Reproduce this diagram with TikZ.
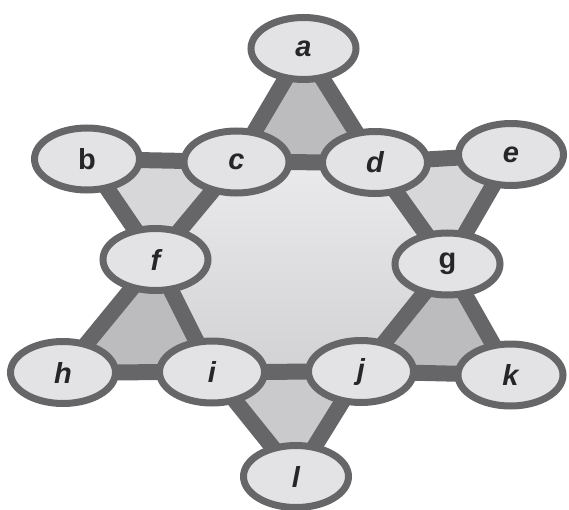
\documentclass[tikz,border=0pt]{standalone}
\usepackage{fontspec}
\setmainfont{Liberation Sans}
\usetikzlibrary{shapes.geometric}
\definecolor{edgec}{RGB}{102,102,104}
\definecolor{nodefill}{RGB}{227,227,229}
\definecolor{tridark}{RGB}{188,188,190}
\definecolor{trimid}{RGB}{202,202,204}
\definecolor{trilight}{RGB}{215,215,217}
\definecolor{hextop}{RGB}{234,234,236}
\definecolor{hexbot}{RGB}{210,210,212}
\definecolor{labelc}{RGB}{38,38,40}
\begin{document}
\begin{tikzpicture}[x=1pt,y=-1pt,
  vert/.style={ellipse,draw=edgec,fill=nodefill,line width=7pt,minimum width=105pt,minimum height=62pt,inner sep=0pt,text=labelc,font=\fontsize{29}{29}\selectfont\bfseries},
  link/.style={draw=edgec,line width=16pt}]
\useasboundingbox (0,0) rectangle (569,510);
\coordinate (A) at (303.5,48.5);
\coordinate (B) at (87,159);
\coordinate (C) at (236.5,162);
\coordinate (D) at (375,162.5);
\coordinate (E) at (511,154.5);
\coordinate (F) at (155.5,259.5);
\coordinate (G) at (447.5,264);
\coordinate (H) at (63,372.5);
\coordinate (I) at (212,372);
\coordinate (J) at (361,371.5);
\coordinate (K) at (510.5,375);
\coordinate (L) at (296,476.5);
% region fills
\shade[top color=hextop,bottom color=hexbot] (C) -- (D) -- (G) -- (J) -- (I) -- (F) -- cycle;
\fill[tridark] (A) -- (C) -- (D) -- cycle;
\fill[trilight] (B) -- (C) -- (F) -- cycle;
\fill[trilight] (D) -- (E) -- (G) -- cycle;
\fill[tridark] (F) -- (H) -- (I) -- cycle;
\fill[tridark] (G) -- (J) -- (K) -- cycle;
\fill[trimid] (I) -- (J) -- (L) -- cycle;
% connectors
\path[link] (A) -- (C) (A) -- (D) (C) -- (D)
  (B) -- (C) (B) -- (F) (C) -- (F)
  (D) -- (E) (D) -- (G) (E) -- (G)
  (F) -- (H) (F) -- (I) (H) -- (I)
  (G) -- (J) (G) -- (K) (J) -- (K)
  (I) -- (J) (I) -- (L) (J) -- (L);
% nodes
\node[vert] (a) at (A) {\itshape a};
\node[vert] (b) at (B) {b};
\node[vert] (c) at (C) {\itshape c};
\node[vert] (d) at (D) {\itshape d};
\node[vert] (e) at (E) {\itshape e};
\node[vert] (f) at (F) {\itshape f};
\node[vert] (g) at (G) {g};
\node[vert] (h) at (H) {\itshape h};
\node[vert] (i) at (I) {\itshape i};
\node[vert] (j) at (J) {\itshape j};
\node[vert] (k) at (K) {\itshape k};
\node[vert] (l) at (L) {\itshape l};
\end{tikzpicture}
\end{document}
